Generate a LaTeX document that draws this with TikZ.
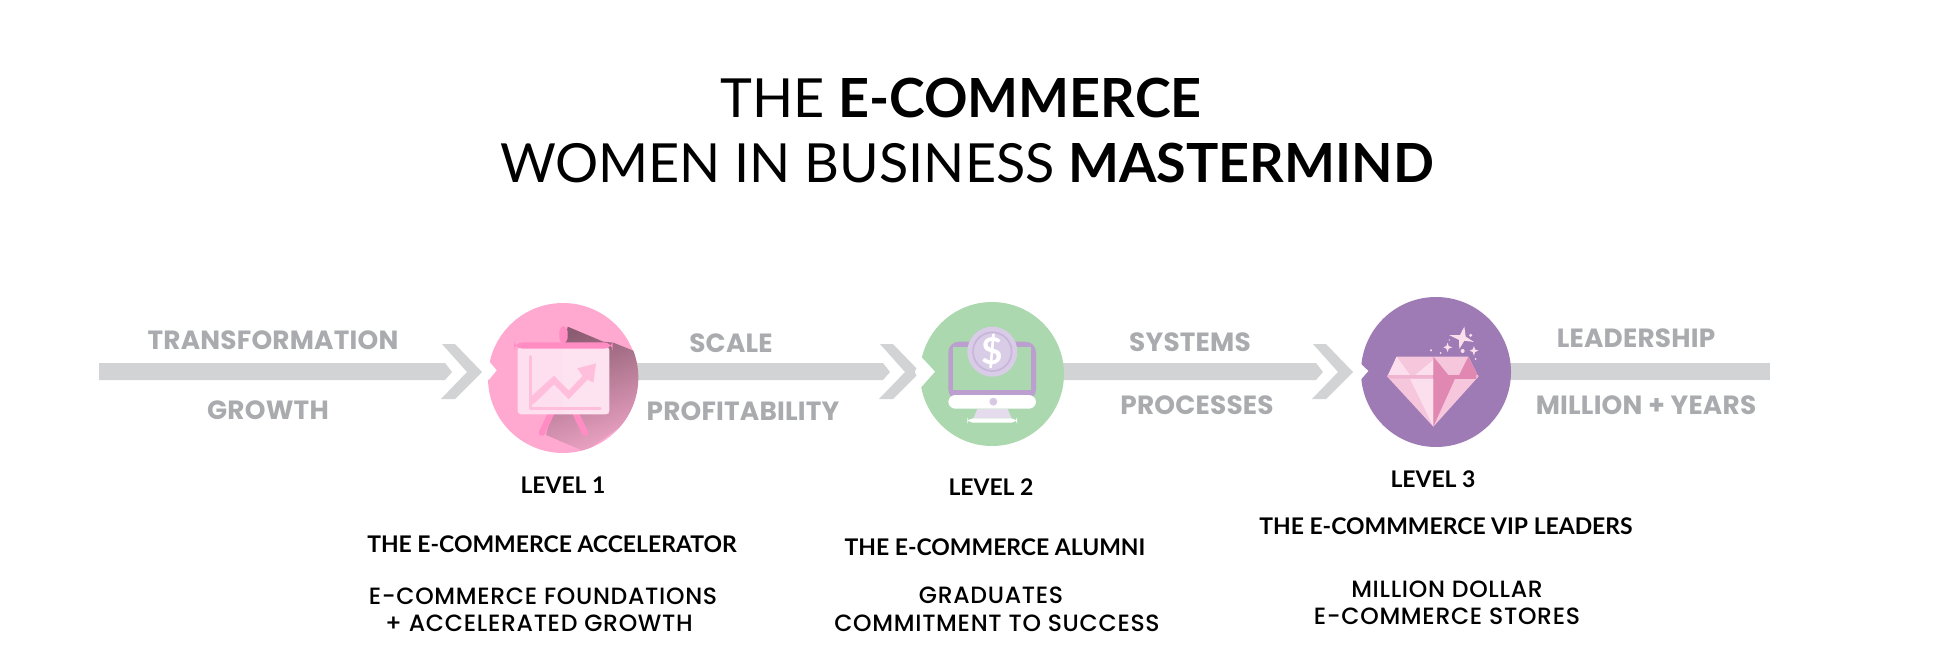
\documentclass[tikz,border=0pt]{standalone}
\usepackage{fontspec}
\setmainfont{Lato}
\newfontfamily\popfont{Poppins}[LetterSpace=0.8]
\newfontfamily\submedfont{Poppins}[UprightFont={* Medium},LetterSpace=3]
\usetikzlibrary{positioning}
\definecolor{barcol}{HTML}{D1D3D4}
\definecolor{graytext}{HTML}{A9ABAE}
\definecolor{pinkcirc}{HTML}{FFA9D0}
\definecolor{greencirc}{HTML}{ACD8AF}
\definecolor{purplecirc}{HTML}{9E7BB5}
\definecolor{polepink}{HTML}{FF8DC3}
\definecolor{boardpink}{HTML}{FDDFEF}
\definecolor{monpurple}{HTML}{BBA0CF}
\definecolor{coinpurple}{HTML}{D8CCE6}
\definecolor{gemlight}{HTML}{FBDFED}
\definecolor{gemmid}{HTML}{F6C6DD}
\definecolor{gemdark}{HTML}{E188B2}
\tikzset{
  glabel/.style={text=graytext,font=\popfont\bfseries\fontsize{15}{17}\selectfont,inner sep=0pt},
  lvltext/.style={text=black,font=\bfseries\fontsize{13.05}{15}\selectfont,inner sep=0pt},
  subtext/.style={text=black,font=\submedfont\fontsize{13.4}{15}\selectfont,inner sep=0pt},
  titletext/.style={text=black,font=\fontsize{30.7}{37}\selectfont,inner sep=0pt},
  bar/.style={fill=barcol,draw=none},
}
\begin{document}
\begin{tikzpicture}[x=0.02cm,y=-0.02cm]
\useasboundingbox (0,0) rectangle (1935,663);
\path
  (563,378) coordinate (c1)
  (992,374) coordinate (c2)
  (1436,372) coordinate (c3)
  ;

% title
\node[titletext] (title1) at (961,98) {THE \textbf{E-COMMERCE}};
\node[titletext] (title2) at (967,163) {WOMEN IN BUSINESS \textbf{MASTERMIND}};

% bars
\fill[bar] (99,363) -- (445,363) -- (452,372) -- (445,380) -- (99,380) -- cycle;
\fill[bar] (630,363) -- (883,363) -- (890,372) -- (883,380) -- (630,380) -- cycle;
\fill[bar] (1055,363) -- (1316,363) -- (1323,372) -- (1316,380) -- (1055,380) -- cycle;
\fill[bar] (1500,363) rectangle (1770,380);

% chevrons
\foreach \x/\s in {441/0,879/0,1312/0}{
  \fill[bar] (\x+1,344) -- (\x+14,344) -- (\x+41,372) -- (\x+14,399) -- (\x,399) -- (\x+26,372) -- cycle;
}

% circles
\fill[pinkcirc] (c1) circle (75);
\fill[greencirc] (c2) circle (72);
\fill[purplecirc] (c3) circle (75);

% level 1
\begin{scope}[shift={(440,280)},scale=1/3]
\begin{scope}
\clip (370,293) circle (225);
\shade[left color=black!45!pinkcirc,right color=pinkcirc!85!gray,shading angle=20]
  (383,140) -- (490,185) -- (520,188) -- (600,220) -- (600,400) -- (435,515) -- (318,465) -- (335,400) -- cycle;
\end{scope}
\fill[white] (148,245) -- (170,271) -- (146,300) -- (130,271) -- cycle;
\fill[polepink,rounded corners=3] (358,138) rectangle (383,190);
\draw[polepink,line width=3.6pt,line cap=round] (333,400) -- (306,458);
\draw[polepink,line width=3.6pt,line cap=round] (407,400) -- (435,458);
\fill[boardpink,rounded corners=2] (233,200) rectangle (508,403);
\fill[pinkcirc!20!white!90!boardpink,opacity=.25] (370,205) rectangle (508,403);
\fill[polepink,rounded corners=5] (222,187) rectangle (518,206);
\draw[pinkcirc!75!white,line width=1.8pt,line cap=round,line join=round] (271,230) -- (271,385) -- (480,385);
\fill[pinkcirc!75!white] (273,350) -- (342,287) -- (386,332) -- (428,288) -- (412,265) -- (468,250) -- (460,308) -- (443,298) -- (386,358) -- (342,313) -- (278,375) -- cycle;
\end{scope}

% level 2
\begin{scope}[shift={(870,280)},scale=1/3]
\fill[white] (155,232) -- (195,275) -- (153,322) -- (135,275) -- cycle;
\fill[monpurple,rounded corners=6] (235,185) rectangle (498,360);
\fill[greencirc] (250,200) rectangle (483,330);
\fill[white,rounded corners=4] (235,345) rectangle (498,386);
\fill[coinpurple] (370,365) circle (12);
\fill[monpurple!60!white] (370,365) circle (7);
\fill[coinpurple!70!white] (322,387) -- (413,387) -- (425,415) -- (310,415) -- cycle;
\fill[white,rounded corners=3] (292,415) rectangle (441,428);
\fill[coinpurple] (367,215) circle (75);
\draw[monpurple!50!coinpurple,line width=1pt] (367,215) circle (58);
\node[text=white,font=\bfseries\fontsize{21}{21}\selectfont,inner sep=0pt] (dollar) at (367,215) {\$};
\end{scope}

% level 3
\begin{scope}[shift={(1300,280)},scale=1/3]
\fill[white] (181,250) -- (205,273) -- (183,298) -- (165,273) -- cycle;
\fill[gemmid] (290,230) -- (505,230) -- (535,290) -- (400,440) -- (262,290) -- cycle;
\fill[gemlight] (290,230) -- (330,285) -- (262,290) -- cycle;
\fill[gemlight] (342,288) -- (400,240) -- (400,288) -- cycle;
\fill[gemdark] (400,230) -- (445,285) -- (400,288) -- cycle;
\fill[gemdark] (505,230) -- (535,290) -- (475,290) -- cycle;
\fill[gemlight] (330,296) -- (400,296) -- (400,440) -- cycle;
\fill[gemdark] (400,296) -- (465,296) -- (400,440) -- cycle;
\fill[gemmid!70!gemdark] (262,285) -- (535,285) -- (535,290) -- (528,296) -- (268,296) -- (262,290) -- cycle;
\fill[gemdark] (400,285) rectangle (528,296);
\fill[gemlight] (493,140) -- (497,170) -- (522,186) -- (493,182) -- (478,207) -- (477,180) -- (447,165) -- (480,165) -- cycle;
\fill[gemlight] (443,188) -- (446,198) -- (457,202) -- (446,206) -- (443,216) -- (439,206) -- (430,202) -- (439,198) -- cycle;
\fill[gemlight] (522,198) -- (525,208) -- (535,212) -- (525,216) -- (522,227) -- (518,216) -- (509,212) -- (518,208) -- cycle;
\foreach \x/\y/\r in {512/166/5,488/213/6,393/211/3.5,422/219/3,448/180/2,527/237/3}{
  \fill[gemlight] (\x,\y) circle (\r);
}
\end{scope}

% side labels
\node[glabel] (trans) at (273,340) {TRANSFORMATION};
\node[glabel] (growth) at (268,410) {GROWTH};
\node[glabel] (scale) at (731,343) {SCALE};
\node[glabel] (profit) at (743,411) {PROFITABILITY};
\node[glabel] (systems) at (1190,342) {SYSTEMS};
\node[glabel] (processes) at (1197,405) {PROCESSES};
\node[glabel] (leader) at (1636,338) {LEADERSHIP};
\node[glabel] (million) at (1646,405) {MILLION + YEARS};

% levels
\node[lvltext] (lvl1) at (563,485) {LEVEL 1};
\node[lvltext] (lvl2) at (991,487) {LEVEL 2};
\node[lvltext] (lvl3) at (1433,479) {LEVEL 3};
\node[lvltext] (name1) at (552,544) {THE E-COMMERCE ACCELERATOR};
\node[lvltext] (name2) at (995,547) {THE E-COMMERCE ALUMNI};
\node[lvltext] (name3) at (1446,526) {THE E-COMMMERCE VIP LEADERS};
\node[subtext] (sub1a) at (543,596) {E-COMMERCE FOUNDATIONS};
\node[subtext] (sub1b) at (539,623) {+ ACCELERATED GROWTH};
\node[subtext] (sub2a) at (991,595) {GRADUATES};
\node[subtext] (sub2b) at (997,623) {COMMITMENT TO SUCCESS};
\node[subtext] (sub3a) at (1447,589) {MILLION DOLLAR};
\node[subtext] (sub3b) at (1447,616) {E-COMMERCE STORES};
\end{tikzpicture}
\end{document}
